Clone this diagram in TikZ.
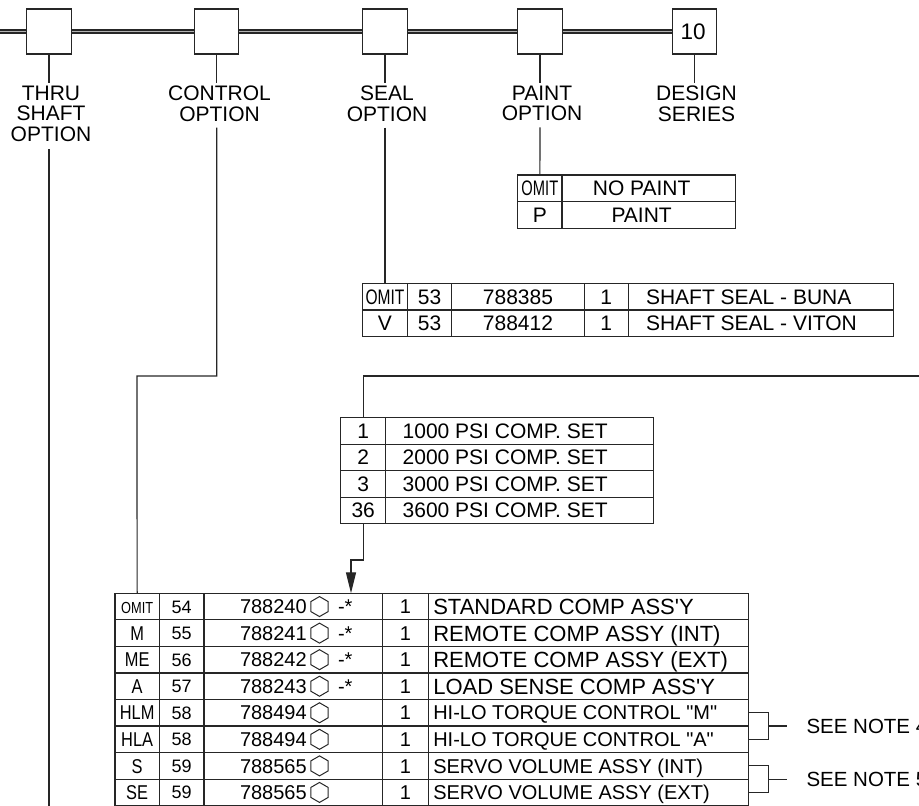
\documentclass[tikz,border=0pt]{standalone}
\usepackage{fontspec}
\setmainfont{Liberation Sans}[Ligatures=TeXOff]
\usepackage{graphicx}
\usetikzlibrary{arrows.meta,shapes.geometric,calc,backgrounds}

\tikzset{
 ln/.style={line width=1.2pt,draw=black!85},
 dbl/.style={line width=1.7pt,draw=black!85,double=black!30,double distance=1.8pt},
 optbox/.style={ln,fill=white,minimum width=44.3pt,minimum height=45pt,inner sep=0pt,font=\fontsize{22.5}{22.5}\selectfont},
 lbl/.style={font=\fontsize{21}{20.35}\selectfont,align=center,inner sep=0pt,anchor=north},
 cellbox/.style={ln,inner sep=0pt,outer sep=0pt},
 ctxt/.style={font=\fontsize{21}{21}\selectfont,inner sep=0pt,outer sep=0pt,text height=15pt,text depth=0pt},
 hexa/.style={regular polygon,regular polygon sides=6,shape border rotate=30,draw=black!85,line width=1pt,minimum size=20pt,inner sep=0pt},
 arrowend/.style={-{Triangle[length=21pt,width=10pt]}},
 notetxt/.style={font=\fontsize{20.5}{20.5}\selectfont,inner sep=0pt,text height=14.7pt,text depth=0pt,anchor=west},
}

\newcommand\mkcell[5]{\node[cellbox,minimum width={#4-#2},minimum height={#5-#3}] (#1) at ({(#2+#4)/2},{(#3+#5)/2}) {};}
\newcommand\tcen[3][]{\node[ctxt,#1] (#2t) at (#2) {#3};}
\newcommand\tlft[3]{\node[ctxt,anchor=west] (#1t) at ([xshift=#2pt]#1.west) {#3};}
\newcommand\omitw[1]{\scalebox{#1}[1]{OMIT}}
\newcommand\narrow[1]{\scalebox{0.82}[1]{#1}}

% #1 row, #2 code, #3 item, #4 part no, #5 description font size, #6 description
\newcommand\bigrow[6]{%
 \pgfmathsetmacro\ya{593.3+(#1-1)*26.55}%
 \pgfmathsetmacro\yb{\ya+26.55}%
 \pgfmathsetmacro\dh{0.716*#5}%
 \mkcell{bc#1}{115}{\ya}{159.3}{\yb}
 \mkcell{bi#1}{159.3}{\ya}{204}{\yb}
 \mkcell{bp#1}{204}{\ya}{382.7}{\yb}
 \mkcell{bq#1}{382.7}{\ya}{428.3}{\yb}
 \mkcell{bd#1}{428.3}{\ya}{748.3}{\yb}
 \node[ctxt,text height=14.3pt,font=\fontsize{20}{20}\selectfont] (bc#1t) at (bc#1) {#2};
 \node[ctxt,text height=12.9pt,font=\fontsize{18}{18}\selectfont] (bi#1t) at (bi#1) {#3};
 \node[ctxt,text height=14.3pt,font=\fontsize{20}{20}\selectfont,anchor=west] (bp#1t) at ([xshift=36pt]bp#1.west) {#4};
 \node[hexa] (hx#1) at ([xshift=115.5pt]bp#1.west) {};
 \node[ctxt,text height=14.3pt,font=\fontsize{20}{20}\selectfont] (bq#1t) at (bq#1) {1};
 \node[ctxt,text height=\dh pt,font=\fontsize{#5}{#5}\selectfont,anchor=west] (bd#1t) at ([xshift=5pt]bd#1.west) {#6};
}

\begin{document}
\begin{tikzpicture}[x=1pt,y=-1pt]
\useasboundingbox (0,0) rectangle (919,806);
\clip (0,0) rectangle (919,806);

% option boxes
\node[optbox] (b1) at (49,31.5) {};
\node[optbox] (b2) at (216.7,31.5) {};
\node[optbox] (b3) at (385,31.5) {};
\node[optbox] (b4) at (540,31.5) {};
\node[optbox] (b5) at (694.7,31.5) {\hspace{-3pt}10};
\coordinate (st) at (0,31.5);
\begin{scope}[on background layer]
\draw[dbl] (st) -- (b5.west);
\end{scope}

% labels
\node[lbl] (l1) at (51,86) {THRU\\SHAFT\\OPTION};
\node[lbl] (l2) at (219.5,86) {CONTROL\\OPTION};
\node[lbl] (l3) at (387,86) {SEAL\\OPTION};
\node[lbl] (l4) at (542,86) {PAINT\\OPTION};
\node[lbl] (l5) at (696.5,86) {DESIGN\\SERIES};

% upper stems
\foreach \i in {1,...,5}
  \draw[ln] (b\i.south) -- ($(b\i.south |- l\i.north)+(0,-3.3)$);

% paint table
\mkcell{pt1a}{517.7}{175}{562}{201.7}
\mkcell{pt1b}{562}{175}{735.3}{201.7}
\mkcell{pt2a}{517.7}{201.7}{562}{228.3}
\mkcell{pt2b}{562}{201.7}{735.3}{228.3}
\tcen{pt1a}{\omitw{0.70}}
\tcen[xshift=-7pt]{pt1b}{NO PAINT}
\tcen{pt2a}{P}
\tcen[xshift=-7pt]{pt2b}{PAINT}

% seal table
\mkcell{s1a}{362.7}{283.3}{407.3}{310}
\mkcell{s1b}{407.3}{283.3}{451.7}{310}
\mkcell{s1c}{451.7}{283.3}{584.3}{310}
\mkcell{s1d}{584.3}{283.3}{628.3}{310}
\mkcell{s1e}{628.3}{283.3}{893.3}{310}
\mkcell{s2a}{362.7}{310}{407.3}{336.6}
\mkcell{s2b}{407.3}{310}{451.7}{336.6}
\mkcell{s2c}{451.7}{310}{584.3}{336.6}
\mkcell{s2d}{584.3}{310}{628.3}{336.6}
\mkcell{s2e}{628.3}{310}{893.3}{336.6}
\tcen{s1a}{\omitw{0.74}}
\tcen{s1b}{53}
\tcen{s1c}{788385}
\tcen{s1d}{1}
\tlft{s1e}{17.7}{SHAFT SEAL - BUNA}
\tcen{s2a}{V}
\tcen{s2b}{53}
\tcen{s2c}{788412}
\tcen{s2d}{1}
\tlft{s2e}{17.7}{SHAFT SEAL - VITON}

% PSI table
\foreach \k/\c/\d in {1/1/1000,2/2/2000,3/3/3000,4/36/3600}{
  \pgfmathsetmacro\ya{417.7+(\k-1)*26.5}
  \pgfmathsetmacro\yb{\ya+26.5}
  \mkcell{p\k a}{340.7}{\ya}{385.7}{\yb}
  \mkcell{p\k b}{385.7}{\ya}{653.3}{\yb}
  \node[ctxt] (p\k at) at (p\k a) {\c};
  \node[ctxt,anchor=west] (p\k bt) at ([xshift=17pt]p\k b.west) {\d\ PSI COMP. SET};
}

% big table
\bigrow{1}{\fontsize{16}{16}\selectfont\omitw{0.8}}{54}{788240}{22}{STANDARD COMP ASS'Y}
\bigrow{2}{\narrow{M}}{55}{788241}{22}{REMOTE COMP ASSY (INT)}
\bigrow{3}{\narrow{ME}}{56}{788242}{22}{REMOTE COMP ASSY (EXT)}
\bigrow{4}{\narrow{A}}{57}{788243}{22}{LOAD SENSE COMP ASS'Y}
\bigrow{5}{\narrow{HLM}}{58}{788494}{20}{HI-LO TORQUE CONTROL "M"}
\bigrow{6}{\narrow{HLA}}{58}{788494}{20}{HI-LO TORQUE CONTROL "A"}
\bigrow{7}{\narrow{S}}{59}{788565}{20}{SERVO VOLUME ASSY (INT)}
\bigrow{8}{\narrow{SE}}{59}{788565}{20}{SERVO VOLUME ASSY (EXT)}
\foreach \i in {1,...,4}
  \node[ctxt,text height=14.3pt,font=\fontsize{20}{20}\selectfont,anchor=west] (bs\i) at ([xshift=134pt]bp\i.west) {-*};

% lower stems and connectors
\coordinate (thruend) at (49,810);
\draw[ln] ($(b1.south |- l1.south)+(0,7.7)$) -- (thruend);
\coordinate (cj) at (137,376);
\draw[ln] ($(b2.south |- l2.south)+(0,6)$) -- (b2.south |- cj) -- (cj) -- (bc1.north);
\draw[ln] ($(b3.south |- l3.south)+(0,6)$) -- (s1a.north);
\draw[ln] ($(b4.south |- l4.south)+(0,6)$) -- (pt1a.north);
\coordinate (pr) at (925,376);
\draw[ln] (pr) -| (p1a.north);
\coordinate (atip) at (351,593.3);
\draw[ln,arrowend] (p4a.south) -- ++(0,36.3) -| (atip);

% brackets and notes
\draw[ln] (bd5.east) -- ++(20,0) |- (bd6.east);
\draw[ln] ([xshift=20pt]bd5.south east) -- ++(19,0);
\node[notetxt] (n4) at ([xshift=58pt]bd5.south east) {SEE NOTE 4};
\draw[ln] (bd7.east) -- ++(20,0) |- (bd8.east);
\draw[ln] ([xshift=20pt]bd7.south east) -- ++(19,0);
\node[notetxt] (n5) at ([xshift=58pt]bd7.south east) {SEE NOTE 5};
\end{tikzpicture}
\end{document}
